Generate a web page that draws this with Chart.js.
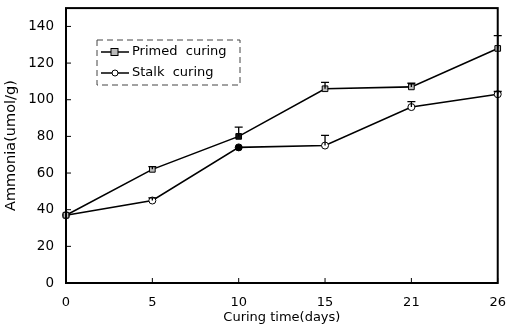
<!DOCTYPE html>
<html>
<head>
<meta charset="utf-8">
<script src="https://cdn.jsdelivr.net/npm/chart.js@4"></script>
<style>
  html, body { margin: 0; padding: 0; background: #fff; }
  #wrap { width: 506px; height: 327px; }
</style>
</head>
<body>
<div id="wrap"><canvas id="chart" width="506" height="327"></canvas></div>
<script>
const days = ["0", "5", "10", "15", "21", "26"];
const primed = [37, 62, 80, 106, 107, 128];
const primedErr = [0, 1.5, 5, 3.5, 2, 7];
const stalk = [37, 45, 74, 75, 96, 103];
const stalkErr = [0, 1.5, 0, 5.5, 3, 1.5];
const yTicks = [0, 20, 40, 60, 80, 100, 120, 140];

const FONT = "'DejaVu Sans', Verdana, sans-serif";

// error bars (upper caps) plus inward ticks, frame and the boxed legend
const extras = {
    id: "extras",
    afterDatasetsDraw(chart) {
        const ctx = chart.ctx;
        const x = chart.scales.x, y = chart.scales.y;
        const a = chart.chartArea;
        ctx.save();
        ctx.strokeStyle = "#000";
        ctx.lineWidth = 1.3;
        [[primed, primedErr], [stalk, stalkErr]].forEach(([vals, errs]) => {
            vals.forEach((v, i) => {
                if (!errs[i]) return;
                const px = x.getPixelForValue(i);
                const py = y.getPixelForValue(v);
                const pt = y.getPixelForValue(v + errs[i]);
                ctx.beginPath();
                ctx.moveTo(px, py);
                ctx.lineTo(px, pt);
                ctx.moveTo(px - 4, pt);
                ctx.lineTo(px + 4, pt);
                ctx.stroke();
            });
        });
        // frame
        ctx.lineWidth = 2;
        ctx.strokeRect(a.left, a.top, a.right - a.left, a.bottom - a.top);
        // inward ticks
        ctx.lineWidth = 1;
        yTicks.forEach(t => {
            const py = y.getPixelForValue(t);
            ctx.beginPath();
            ctx.moveTo(a.left, py);
            ctx.lineTo(a.left + 5, py);
            ctx.stroke();
        });
        days.forEach((d, i) => {
            const px = x.getPixelForValue(i);
            ctx.beginPath();
            ctx.moveTo(px, a.bottom);
            ctx.lineTo(px, a.bottom - 5);
            ctx.stroke();
        });
        // legend
        const lx = 97, ly = 40, lw = 143, lh = 45;
        ctx.setLineDash([6, 4]);
        ctx.lineWidth = 1;
        ctx.strokeStyle = "#444";
        ctx.strokeRect(lx, ly, lw, lh);
        ctx.setLineDash([]);
        ctx.strokeStyle = "#000";
        ctx.font = "13px " + FONT;
        ctx.fillStyle = "#000";
        ctx.textBaseline = "middle";
        const rows = [["Primed  curing", "rect"], ["Stalk  curing", "circle"]];
        rows.forEach(([label, shape], k) => {
            const cy = ly + 12 + k * 21;
            ctx.lineWidth = 1.5;
            ctx.beginPath();
            ctx.moveTo(lx + 4, cy);
            ctx.lineTo(lx + 32, cy);
            ctx.stroke();
            ctx.lineWidth = 1;
            if (shape === "rect") {
                ctx.fillStyle = "#bbb";
                ctx.fillRect(lx + 14, cy - 3.5, 7, 7);
                ctx.strokeRect(lx + 14, cy - 3.5, 7, 7);
            } else {
                ctx.fillStyle = "#fff";
                ctx.beginPath();
                ctx.arc(lx + 18, cy, 3, 0, Math.PI * 2);
                ctx.fill();
                ctx.stroke();
            }
            ctx.fillStyle = "#000";
            ctx.fillText(label, lx + 35, cy);
        });
        ctx.restore();
    }
};

// invisible outer ticks give the label gap without padding the chart area
const hiddenTicks = { display: true, drawOnChartArea: false, drawTicks: true, tickColor: "rgba(0,0,0,0)" };

new Chart(document.getElementById("chart"), {
    type: "line",
    data: {
        labels: days,
        datasets: [{
            label: "Primed curing",
            data: primed,
            borderColor: "#000",
            borderWidth: 1.6,
            pointStyle: "rect",
            pointRadius: 4,
            pointBackgroundColor: ["#bbb", "#bbb", "#111", "#bbb", "#bbb", "#bbb"],
            pointBorderColor: "#000",
            pointBorderWidth: 1,
            tension: 0
        }, {
            label: "Stalk curing",
            data: stalk,
            borderColor: "#000",
            borderWidth: 1.6,
            pointStyle: "circle",
            pointRadius: 3.5,
            pointBackgroundColor: ["#fff", "#fff", "#000", "#fff", "#fff", "#fff"],
            pointBorderColor: "#000",
            pointBorderWidth: 1,
            tension: 0
        }]
    },
    options: {
        responsive: false,
        animation: false,
        layout: { padding: { top: 0, right: 0, left: 3, bottom: 0 } },
        plugins: {
            legend: { display: false },
            tooltip: { enabled: false }
        },
        scales: {
            x: {
                offset: false,
                grid: { ...hiddenTicks, tickLength: 12 },
                border: { display: false },
                ticks: { color: "#000", font: { family: FONT, size: 13 }, padding: 0, maxRotation: 0 },
                title: { display: true, text: "Curing time(days)", color: "#000", font: { family: FONT, size: 13 }, padding: { top: 0, bottom: 2 } },
                afterFit(s) { s.height = 44; }
            },
            y: {
                min: 0,
                max: 150,
                afterBuildTicks(s) { s.ticks = yTicks.map(v => ({ value: v })); },
                grid: { ...hiddenTicks, tickLength: 12 },
                border: { display: false },
                ticks: { color: "#000", font: { family: FONT, size: 13.5 }, padding: 0 },
                title: { display: true, text: "Ammonia(umol/g)", color: "#000", font: { family: FONT, size: 14.5 }, padding: { top: 0, bottom: 4 } },
                afterFit(s) { s.width = 63; }
            }
        }
    },
    plugins: [extras]
});
</script>
</body>
</html>
